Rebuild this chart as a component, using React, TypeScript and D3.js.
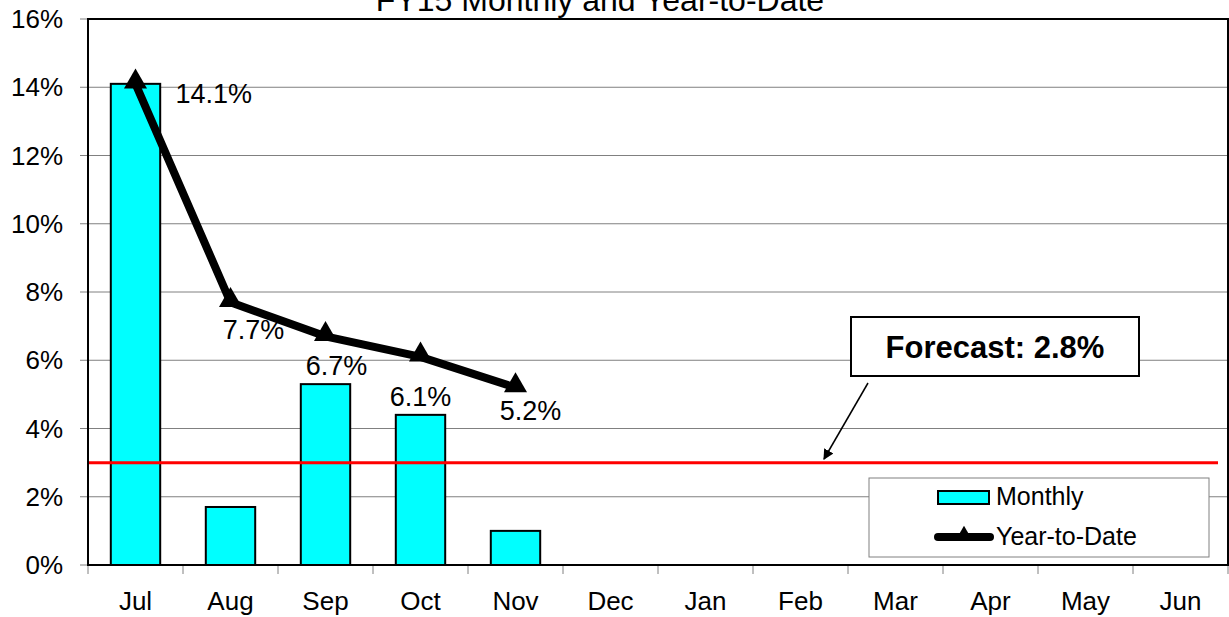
import React from 'react';
import * as d3 from 'd3';

const months = ['Jul', 'Aug', 'Sep', 'Oct', 'Nov', 'Dec', 'Jan', 'Feb', 'Mar', 'Apr', 'May', 'Jun'];
const monthly = [14.1, 1.7, 5.3, 4.4, 1.0];
const yearToDate = [14.1, 7.7, 6.7, 6.1, 5.2];
const yTicks = [0, 2, 4, 6, 8, 10, 12, 14, 16];
const forecastLine = 3.0;
const forecastLabel = 'Forecast: 2.8%';
const title = 'FY15 Monthly and Year-to-Date';

// manual nudges for the YTD labels (dx, dy from the point), like the Excel original
const labelNudges: [number, number, string][] = [
  [40, 19, 'start'],
  [23, 37, 'middle'],
  [11, 39, 'middle'],
  [0, 49, 'middle'],
  [15, 32, 'middle'],
];

const W = 1229;
const H = 617;
const left = 88;
const right = 1228;
const top = 19;
const bottom = 565;
const font = 'Arial, "Liberation Sans", sans-serif';

export default function App() {
  const x = d3.scaleBand().domain(months).range([left, right]).paddingInner(0.48).paddingOuter(0.24);
  const band = d3.scaleBand().domain(months).range([left, right]);
  const y = d3.scaleLinear().domain([0, 16]).range([bottom, top]);
  const cx = (i: number) => (band(months[i]) as number) + band.bandwidth() / 2;

  const line = d3.line<number>().x((_, i) => cx(i)).y(d => y(d));
  const tri = d3.symbol().type(d3.symbolTriangle).size(230)();
  const triSmall = d3.symbol().type(d3.symbolTriangle).size(110)();

  return (
    <svg width={W} height={H} style={{ position: 'absolute', left: 0, top: 0, background: '#fff' }}>
      <text x={600} y={11} textAnchor="middle" fontFamily={font} fontSize={32}>{title}</text>

      {/* gridlines */}
      {yTicks.map(t => (
        <line key={t} x1={left} x2={right} y1={y(t)} y2={y(t)} stroke="#808080" strokeWidth={1} />
      ))}

      {/* y axis ticks and labels */}
      {yTicks.map(t => (
        <g key={'yt' + t}>
          <line x1={left - 8} x2={left} y1={y(t)} y2={y(t)} stroke="#808080" />
          <text x={63} y={y(t) + 9} textAnchor="end" fontFamily={font} fontSize={26}>{t}%</text>
        </g>
      ))}

      {/* x ticks and labels */}
      {months.map((m, i) => (
        <g key={m}>
          <line x1={band(m)} x2={band(m)} y1={bottom} y2={bottom + 9} stroke="#808080" />
          <text x={cx(i)} y={610} textAnchor="middle" fontFamily={font} fontSize={26}>{m}</text>
        </g>
      ))}
      <line x1={right} x2={right} y1={bottom} y2={bottom + 9} stroke="#808080" />

      {/* bars */}
      {monthly.map((v, i) => (
        <rect key={i} x={x(months[i])} y={y(v)} width={x.bandwidth()} height={bottom - y(v)}
          fill="#00ffff" stroke="#000" strokeWidth={2} />
      ))}

      {/* forecast line */}
      <line x1={left} x2={1218} y1={y(forecastLine)} y2={y(forecastLine)} stroke="#ff0000" strokeWidth={3} />

      {/* plot border */}
      <rect x={left} y={top} width={right - left} height={bottom - top} fill="none" stroke="#000" strokeWidth={2} />

      {/* YTD line */}
      <path d={line(yearToDate) as string} fill="none" stroke="#000" strokeWidth={8} strokeLinejoin="miter" />
      {yearToDate.map((v, i) => (
        <path key={i} d={tri as string} transform={`translate(${cx(i)},${y(v) - 2})`} fill="#000" />
      ))}
      {yearToDate.map((v, i) => (
        <text key={'l' + i} x={cx(i) + labelNudges[i][0]} y={y(v) + labelNudges[i][1]}
          textAnchor={labelNudges[i][2] as any} fontFamily={font} fontSize={27}>{v.toFixed(1)}%</text>
      ))}

      {/* forecast callout */}
      <defs>
        <marker id="arr" viewBox="0 0 10 10" refX={9} refY={5} markerWidth={7} markerHeight={7} orient="auto">
          <path d="M0,0 L10,5 L0,10 z" fill="#000" />
        </marker>
      </defs>
      <line x1={868} y1={383} x2={824} y2={459} stroke="#000" strokeWidth={1.5} markerEnd="url(#arr)" />
      <rect x={851} y={317} width={288} height={59} fill="#fff" stroke="#000" strokeWidth={2} />
      <text x={995} y={358} textAnchor="middle" fontFamily={font} fontSize={31} fontWeight="bold">{forecastLabel}</text>

      {/* legend */}
      <rect x={869} y={478} width={340} height={79} fill="#fff" stroke="#808080" strokeWidth={1} />
      <rect x={938} y={491} width={51} height={13} fill="#00ffff" stroke="#000" strokeWidth={2} />
      <text x={996} y={505} fontFamily={font} fontSize={25}>Monthly</text>
      <line x1={938} x2={990} y1={537} y2={537} stroke="#000" strokeWidth={8} strokeLinecap="round" />
      <path d={triSmall as string} transform="translate(964,535)" fill="#000" />
      <text x={996} y={545} fontFamily={font} fontSize={25}>Year-to-Date</text>
    </svg>
  );
}
